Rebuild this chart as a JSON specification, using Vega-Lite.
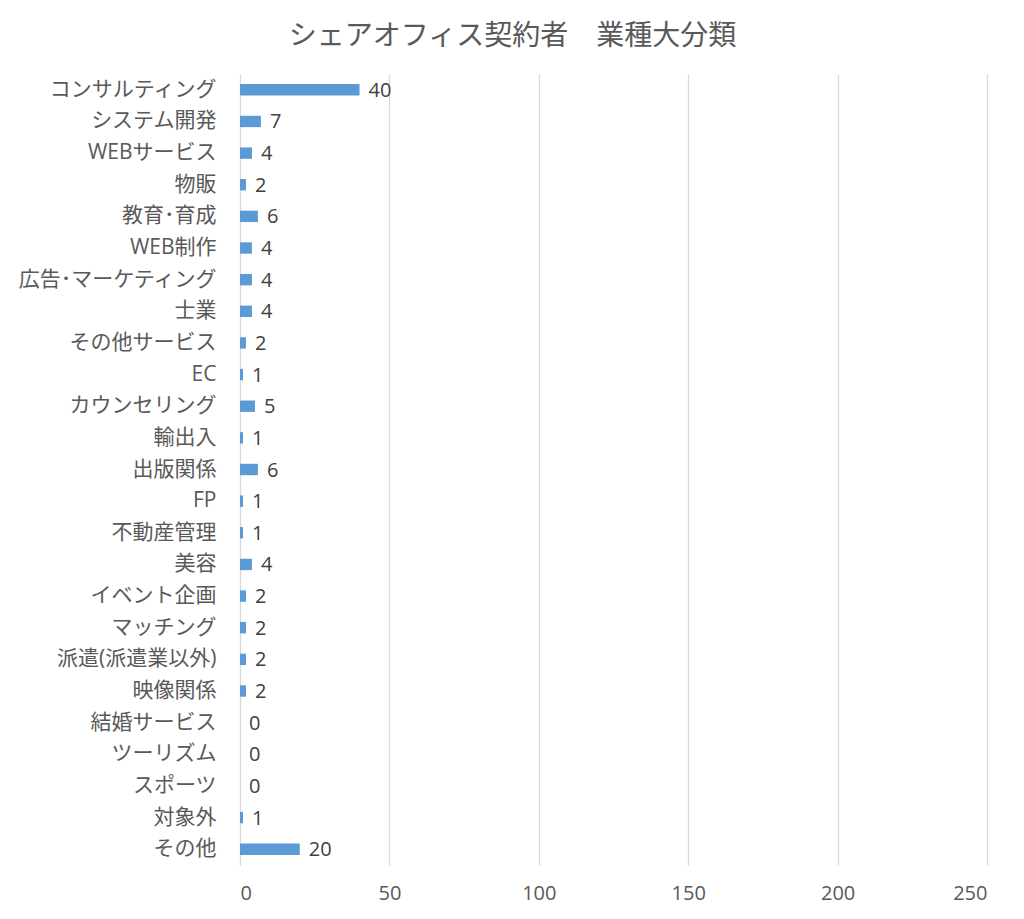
{
  "$schema": "https://vega.github.io/schema/vega-lite/v6.json",
  "autosize": {"type": "none"},
  "padding": {"left": 240, "top": 74, "right": 37, "bottom": 54},
  "width": 747,
  "height": 791,
  "background": "white",
  "config": {"view": {"stroke": null}, "font": "Open Sans, Noto Sans CJK JP"},
  "title": {
    "text": "シェアオフィス契約者　業種大分類",
    "fontSize": 28,
    "fontWeight": "normal",
    "color": "#595959",
    "font": "Open Sans, Noto Sans CJK JP",
    "anchor": "middle",
    "frame": "group",
    "dx": -101,
    "offset": 23
  },
  "data": {
    "values": [
      {"category": "コンサルティング", "count": 40},
      {"category": "システム開発", "count": 7},
      {"category": "WEBサービス", "count": 4},
      {"category": "物販", "count": 2},
      {"category": "教育･育成", "count": 6},
      {"category": "WEB制作", "count": 4},
      {"category": "広告･マーケティング", "count": 4},
      {"category": "士業", "count": 4},
      {"category": "その他サービス", "count": 2},
      {"category": "EC", "count": 1},
      {"category": "カウンセリング", "count": 5},
      {"category": "輸出入", "count": 1},
      {"category": "出版関係", "count": 6},
      {"category": "FP", "count": 1},
      {"category": "不動産管理", "count": 1},
      {"category": "美容", "count": 4},
      {"category": "イベント企画", "count": 2},
      {"category": "マッチング", "count": 2},
      {"category": "派遣(派遣業以外)", "count": 2},
      {"category": "映像関係", "count": 2},
      {"category": "結婚サービス", "count": 0},
      {"category": "ツーリズム", "count": 0},
      {"category": "スポーツ", "count": 0},
      {"category": "対象外", "count": 1},
      {"category": "その他", "count": 20}
    ]
  },
  "encoding": {
    "y": {
      "field": "category",
      "type": "nominal",
      "sort": null,
      "scale": {"paddingInner": 0.64, "paddingOuter": 0.32},
      "axis": {
        "title": null,
        "domain": false,
        "ticks": false,
        "grid": false,
        "labelPadding": 24,
        "labelFontSize": 21,
        "labelColor": "#595959",
        "labelFont": "Open Sans, Noto Sans CJK JP",
        "labelLimit": 300
      }
    },
    "x": {
      "field": "count",
      "type": "quantitative",
      "scale": {"domain": [0, 250], "nice": false},
      "axis": {
        "title": null,
        "values": [0, 50, 100, 150, 200, 250],
        "domain": false,
        "ticks": false,
        "grid": true,
        "gridColor": "#d9d9d9",
        "gridWidth": 1.3,
        "labelPadding": 18,
        "labelFontSize": 20,
        "labelColor": "#595959",
        "labelFont": "Open Sans, Noto Sans CJK JP"
      }
    }
  },
  "layer": [
    {"mark": {"type": "bar", "color": "#5b9bd5"}},
    {
      "mark": {
        "type": "text",
        "align": "left",
        "baseline": "middle",
        "dx": 9,
        "dy": 1,
        "fontSize": 20,
        "color": "#404040",
        "font": "Open Sans, Noto Sans CJK JP"
      },
      "encoding": {"text": {"field": "count", "type": "quantitative"}}
    }
  ]
}
